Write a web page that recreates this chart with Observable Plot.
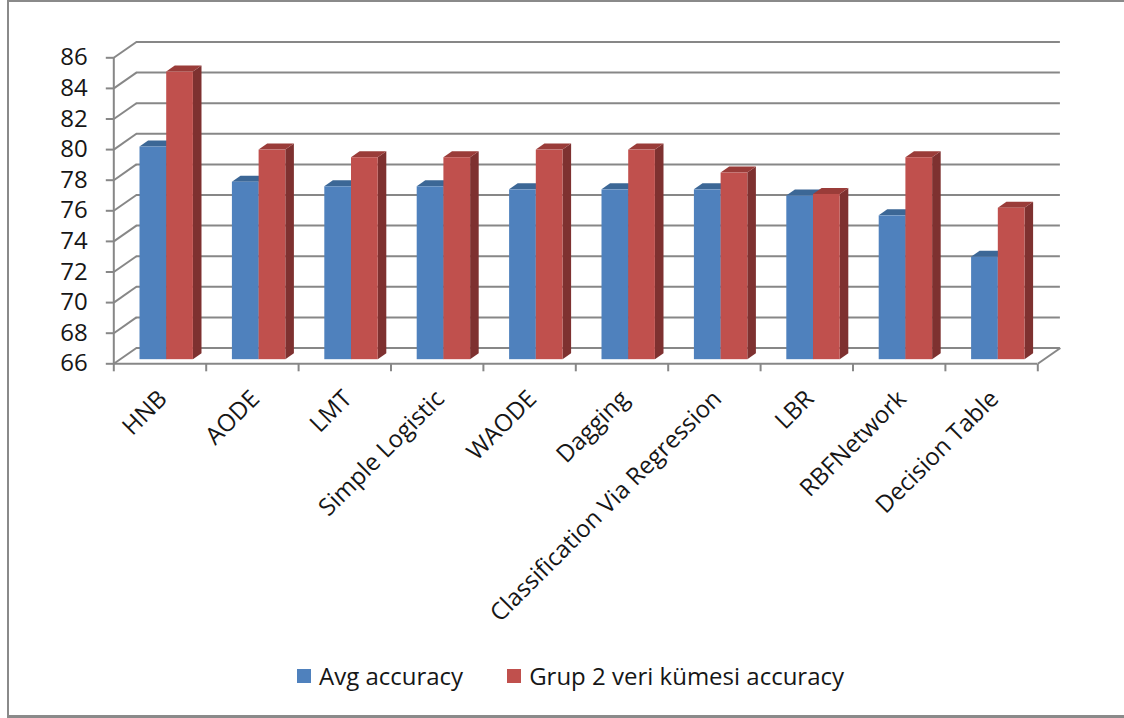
<!DOCTYPE html>
<html>
<head>
<meta charset="utf-8">
<script src="https://cdn.jsdelivr.net/npm/d3@7"></script>
<script src="https://cdn.jsdelivr.net/npm/@observablehq/plot@0.6"></script>
<style>
  body { margin: 0; background: #fff; font-family: "Open Sans", sans-serif; }
  #frame {
    position: absolute; left: 7px; top: 0; width: 1130px; height: 713px;
    border-left: 2px solid #8a8a8a; border-top: 2px solid #8a8a8a; border-bottom: 3px solid #8a8a8a;
  }
  #chart { position: absolute; left: 0; top: 0; }
  #legend {
    position: absolute; left: 297px; top: 659px; display: flex; align-items: center;
    font-size: 24px; color: #161616; white-space: nowrap;
  }
  .sw { width: 14px; height: 14px; display: inline-block; }
</style>
</head>
<body>
<div id="frame"></div>
<div id="chart"></div>
<div id="legend"></div>
<script>
// Classifier accuracies (%)
const categories = ["HNB", "AODE", "LMT", "Simple Logistic", "WAODE", "Dagging",
  "Classification Via Regression", "LBR", "RBFNetwork", "Decision Table"];
const avgAccuracy   = [79.9, 77.6, 77.3, 77.3, 77.1, 77.1, 77.1, 76.7, 75.4, 72.7];
const grup2Accuracy = [84.8, 79.7, 79.2, 79.2, 79.7, 79.7, 78.2, 76.8, 79.2, 75.9];
const seriesNames = ["Avg accuracy", "Grup 2 veri kümesi accuracy"];
const yTicks = [66, 68, 70, 72, 74, 76, 78, 80, 82, 84, 86];

// Face colours per series: front, top, side
const FRONT = ["#4f81bd", "#c0504d"];
const TOP   = ["#3c6796", "#9a3c39"];
const SIDE  = ["#2f5583", "#7e3130"];
const GRID = "#878787";
const INK = "#161616";

// Layout
const W = 1124, H = 650;
const ML = 113.3, MR = 86.7;
const Y0 = 66, Y1 = 87.2;
const pxY = 15.3;
const MB = H - 363.3;
const MT = 363.3 - (Y1 - Y0) * pxY;
const pxX = (W - ML - MR) / categories.length;

// Oblique depth of the back wall, converted to data units
const DX = 22.6 / pxX, DY = 15.8 / pxY;
// Bar placement within a category and its depth slab
const BAR_OFF = 0.22, BAR_W = 0.289;
const F0 = 0.26, F1 = 0.64;

const bars = categories.flatMap((c, i) =>
  [avgAccuracy[i], grup2Accuracy[i]].map((v, s) => ({ id: i * 2 + s, s, v, x0: i + BAR_OFF + s * BAR_W }))
);
const sides = bars.flatMap(b => [F0, F1].map(f => ({
  id: b.id, fill: SIDE[b.s], x: b.x0 + BAR_W + f * DX, y1: Y0 + f * DY, y2: b.v + f * DY
})));
const tops = bars.flatMap(b => [F0, F1].map(f => ({
  id: b.id, fill: TOP[b.s], y: b.v + f * DY, x1: b.x0 + f * DX, x2: b.x0 + BAR_W + f * DX
})));
const bounds = d3.range(categories.length + 1);

const chart = Plot.plot({
  width: W, height: H,
  marginLeft: ML, marginRight: MR, marginTop: MT, marginBottom: MB,
  x: { domain: [0, categories.length], axis: null },
  y: { domain: [Y0, Y1], axis: null },
  color: { type: "identity" },
  style: { fontFamily: "'Open Sans', sans-serif", fontSize: "24px", background: "transparent", overflow: "visible" },
  marks: [
    // back wall gridlines
    Plot.ruleY(yTicks, { y: t => t + DY, x1: DX, x2: categories.length + DX, stroke: GRID, strokeWidth: 2 }),
    // side wall connectors
    Plot.link(yTicks, { x1: 0, y1: t => t, x2: DX, y2: t => t + DY, stroke: GRID, strokeWidth: 2 }),
    // floor front edge and right edge
    Plot.ruleY([Y0], { x1: 0, x2: categories.length, stroke: GRID, strokeWidth: 2 }),
    Plot.link([Y0], { x1: categories.length, y1: Y0, x2: categories.length + DX, y2: Y0 + DY, stroke: GRID, strokeWidth: 2 }),
    // value axis line and ticks
    Plot.ruleX([0], { y1: Y0, y2: 86, stroke: GRID, strokeWidth: 2 }),
    Plot.link(yTicks, { x1: 0, x2: -8 / pxX, y1: t => t, y2: t => t, stroke: GRID, strokeWidth: 2 }),
    // category ticks
    Plot.link(bounds, { x1: b => b, x2: b => b, y1: Y0, y2: Y0 - 7.5 / pxY, stroke: GRID, strokeWidth: 2 }),
    // bars: right sides, tops, fronts
    Plot.areaY(sides, { x: "x", y1: "y1", y2: "y2", z: "id", fill: "fill", curve: "linear" }),
    Plot.areaX(tops, { y: "y", x1: "x1", x2: "x2", z: "id", fill: "fill", curve: "linear" }),
    Plot.rect(bars, {
      x1: b => b.x0 + F0 * DX, x2: b => b.x0 + BAR_W + F0 * DX,
      y1: Y0 + F0 * DY, y2: b => b.v + F0 * DY, fill: b => FRONT[b.s]
    }),
    // value labels
    Plot.text(yTicks, { x: 0, y: t => t, text: t => String(t), textAnchor: "end", dx: -26, fill: INK, fontSize: 24 }),
    // category labels
    Plot.text(categories, {
      x: (d, i) => i + 0.5, y: Y0, text: d => d, rotate: -45, textAnchor: "end",
      dx: 3, dy: 31, fill: INK, fontSize: 24
    })
  ]
});
document.getElementById("chart").append(chart);

// Legend
const legend = document.getElementById("legend");
seriesNames.forEach((name, s) => {
  const sw = document.createElement("span");
  sw.className = "sw";
  sw.style.background = FRONT[s];
  sw.style.marginLeft = s ? "44px" : "0";
  sw.style.marginRight = "8px";
  const label = document.createElement("span");
  label.textContent = name;
  legend.append(sw, label);
});
</script>
</body>
</html>
